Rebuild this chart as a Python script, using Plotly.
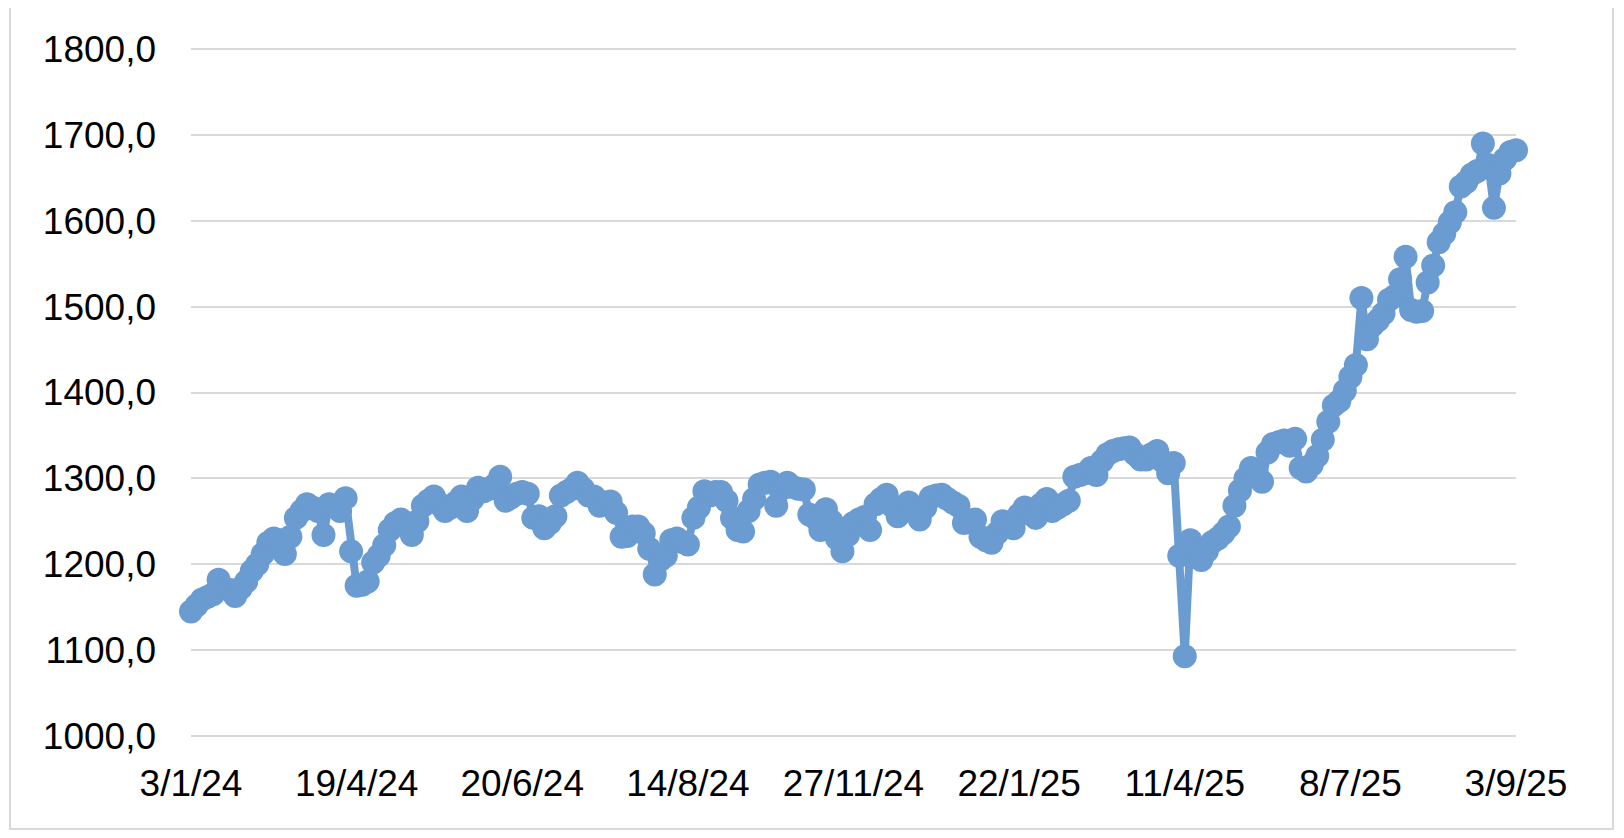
import plotly.graph_objects as go

tick_labels = ["3/1/24", "19/4/24", "20/6/24", "14/8/24", "27/11/24",
               "22/1/25", "11/4/25", "8/7/25", "3/9/25"]
points_per_label = 30

values = [
    # 3/1/24 -> 19/4/24
    1145, 1152, 1159, 1162, 1165, 1182, 1172, 1170, 1163, 1172,
    1180, 1192, 1200, 1212, 1225, 1230, 1228, 1212, 1232, 1254,
    1262, 1270, 1266, 1262, 1234, 1270, 1268, 1262, 1277, 1215,
    # 19/4/24 -> 20/6/24
    1175, 1176, 1180, 1202, 1210, 1222, 1240, 1248, 1252, 1245,
    1234, 1250, 1268, 1274, 1279, 1270, 1262, 1266, 1272, 1279,
    1262, 1276, 1289, 1285, 1288, 1292, 1302, 1274, 1278, 1282,
    # 20/6/24 -> 14/8/24
    1284, 1282, 1254, 1256, 1242, 1248, 1256, 1280, 1284, 1288,
    1295, 1288, 1280, 1279, 1268, 1272, 1273, 1260, 1232, 1233,
    1244, 1244, 1236, 1218, 1188, 1205, 1210, 1228, 1230, 1226,
    # 14/8/24 -> 27/11/24
    1223, 1254, 1266, 1285, 1280, 1284, 1284, 1274, 1254, 1240,
    1238, 1262, 1276, 1293, 1295, 1296, 1268, 1288, 1295, 1290,
    1288, 1287, 1258, 1254, 1240, 1264, 1250, 1230, 1215, 1234,
    # 27/11/24 -> 22/1/25
    1248, 1252, 1255, 1240, 1270, 1276, 1281, 1268, 1256, 1264,
    1272, 1262, 1252, 1266, 1278, 1280, 1281, 1276, 1272, 1268,
    1248, 1250, 1252, 1232, 1228, 1225, 1236, 1250, 1246, 1242,
    # 22/1/25 -> 11/4/25
    1258, 1266, 1262, 1254, 1270, 1276, 1262, 1266, 1270, 1274,
    1302, 1304, 1306, 1312, 1304, 1320, 1328, 1332, 1334, 1335,
    1336, 1328, 1322, 1322, 1328, 1332, 1320, 1306, 1318, 1210,
    # 11/4/25 -> 8/7/25
    1093, 1228, 1215, 1205, 1215, 1226, 1230, 1236, 1244, 1268,
    1286, 1300, 1312, 1308, 1296, 1330, 1340, 1342, 1344, 1338,
    1346, 1312, 1308, 1316, 1326, 1345, 1366, 1385, 1390, 1402,
    # 8/7/25 -> 3/9/25
    1418, 1432, 1510, 1462, 1478, 1484, 1492, 1508, 1512, 1532,
    1558, 1496, 1494, 1495, 1528, 1548, 1575, 1585, 1598, 1610,
    1640, 1645, 1654, 1658, 1690, 1665, 1615, 1655, 1672, 1680,
    1682,
]

x_index = list(range(len(values)))
tick_positions = [i * points_per_label for i in range(len(tick_labels))]

y_min, y_max, y_step = 1000, 1800, 100

line_color = "#6A9BD1"
grid_color = "#D9D9D9"
font_family = "Liberation Sans, Arial, Helvetica, sans-serif"

fig = go.Figure()
fig.add_trace(go.Scatter(
    x=x_index, y=values, mode="lines+markers",
    line=dict(color=line_color, width=8),
    marker=dict(color=line_color, size=24),
    cliponaxis=False, showlegend=False, hoverinfo="skip",
))

# page body has an 8px default margin; window is 1624x838
OFF = 8
W, H = 1624 - OFF, 838 - OFF
# window px: 1800 line at y=49, 1000 line at y=736; first/last point x=191/1516
PAD = 2  # px of padding so the edge gridlines are drawn
ml, mr = 191 - OFF, 108
mt, mb = 49 - OFF - PAD, H - (736 - OFF) - PAD
pw, ph = W - ml - mr, H - mt - mb
units_per_px = (y_max - y_min) / (ph - 2 * PAD)
y_range = [y_min - PAD * units_per_px, y_max + PAD * units_per_px]

def px_to_paper_x(px):
    return (px - OFF - ml) / pw

def px_to_paper_y(py):
    return (H - mb - (py - OFF)) / ph

fig.update_layout(
    width=W, height=H,
    margin=dict(l=ml, r=mr, t=mt, b=mb, pad=0),
    paper_bgcolor="white", plot_bgcolor="white",
    separators=",.",
    font=dict(family=font_family, size=37, color="black"),
    xaxis=dict(
        range=[0, len(values) - 1],
        tickmode="array", tickvals=tick_positions, ticktext=tick_labels,
        showgrid=False, zeroline=False, showline=False, ticks="",
        ticklabelstandoff=20,
    ),
    yaxis=dict(
        range=y_range, dtick=y_step, tick0=y_min,
        tickformat=".1f",
        showgrid=True, gridcolor=grid_color, gridwidth=2,
        zeroline=False, showline=False, ticks="",
        ticklabelstandoff=34,
    ),
    shapes=[dict(
        type="rect", xref="paper", yref="paper",
        x0=px_to_paper_x(10), x1=px_to_paper_x(1613),
        y0=px_to_paper_y(829), y1=px_to_paper_y(4),
        line=dict(color=grid_color, width=2), fillcolor="rgba(0,0,0,0)",
        layer="below",
    )],
)

fig.write_html("out.html")
